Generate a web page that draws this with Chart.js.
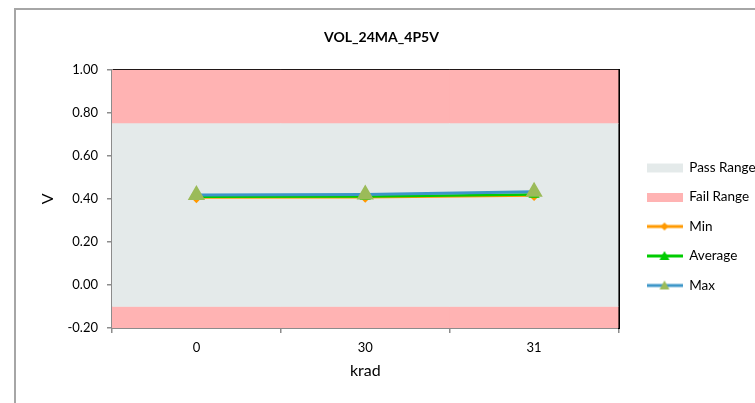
<!DOCTYPE html>
<html>
<head>
<meta charset="utf-8">
<script src="https://cdn.jsdelivr.net/npm/chart.js@4"></script>
<style>
  body { margin: 0; background: #fff; }
  #wrap { position: relative; width: 755px; height: 403px; }
  #frame { position: absolute; left: 14px; top: 8px; right: 0; bottom: 0; border-left: 2px solid #a6a6a6; border-top: 2px solid #a6a6a6; pointer-events: none; }
  canvas { position: absolute; left: 0; top: 0; }
</style>
</head>
<body>
<div id="wrap">
  <canvas id="chart" width="755" height="403"></canvas>
  <div id="frame"></div>
</div>
<script>
// chart values
const categories = ['0', '30', '31'];
const minValues = [0.405, 0.407, 0.415];
const avgValues = [0.410, 0.411, 0.420];
const maxValues = [0.418, 0.420, 0.433];
const passRange = [-0.1, 0.75];
const failLow = [-0.2, -0.1];
const failHigh = [0.75, 1.0];
const yMin = -0.2;
const yMax = 1.0;
const yStep = 0.2;

const PASS_COLOR = '#e4eaea';
const FAIL_COLOR = '#ffb3b3';
const MIN_COLOR = '#ff9900';
const AVG_COLOR = '#00cc00';
const MAX_COLOR = '#3c96c8';
const MARKER_COLOR = '#9bbb59';
const AXIS_GRAY = '#8c8c8c';

Chart.defaults.font.family = 'Lato, "Open Sans", sans-serif';
Chart.defaults.color = '#000';

// small canvases used as legend symbols
function boxSymbol(color) {
    const c = document.createElement('canvas');
    c.width = 36; c.height = 12;
    const ctx = c.getContext('2d');
    ctx.fillStyle = color;
    ctx.fillRect(0, 2, 36, 9);
    return c;
}

function lineSymbol(color, marker, markerColor) {
    const c = document.createElement('canvas');
    c.width = 36; c.height = 12;
    const ctx = c.getContext('2d');
    ctx.strokeStyle = color;
    ctx.lineWidth = 3;
    ctx.beginPath();
    ctx.moveTo(0, 6); ctx.lineTo(36, 6);
    ctx.stroke();
    ctx.fillStyle = markerColor;
    ctx.beginPath();
    if (marker === 'diamond') {
        ctx.moveTo(18, 2); ctx.lineTo(22, 6); ctx.lineTo(18, 10); ctx.lineTo(14, 6);
    } else {
        ctx.moveTo(18, 1); ctx.lineTo(23, 10); ctx.lineTo(13, 10);
    }
    ctx.closePath();
    ctx.fill();
    return c;
}

const legendItems = [
    { text: 'Pass Range', pointStyle: boxSymbol(PASS_COLOR) },
    { text: 'Fail Range', pointStyle: boxSymbol(FAIL_COLOR) },
    { text: 'Min', pointStyle: lineSymbol(MIN_COLOR, 'diamond', MIN_COLOR) },
    { text: 'Average', pointStyle: lineSymbol(AVG_COLOR, 'triangle', AVG_COLOR) },
    { text: 'Max', pointStyle: lineSymbol(MAX_COLOR, 'triangle', MARKER_COLOR) }
];

function rangeBar(label, range, color) {
    return {
        type: 'bar',
        label: label,
        data: categories.map(() => range.slice()),
        backgroundColor: color,
        borderWidth: 0,
        barPercentage: 1,
        categoryPercentage: 1,
        grouped: false,
        order: 10
    };
}

new Chart(document.getElementById('chart'), {
    type: 'bar',
    data: {
        labels: categories,
        datasets: [
            rangeBar('Pass Range', passRange, PASS_COLOR),
            rangeBar('Fail Range', failLow, FAIL_COLOR),
            rangeBar('Fail Range High', failHigh, FAIL_COLOR),
            {
                type: 'line', label: 'Min', data: minValues,
                borderColor: MIN_COLOR, backgroundColor: MIN_COLOR, borderWidth: 2,
                pointStyle: 'rectRot', pointRadius: 4, order: 3
            },
            {
                type: 'line', label: 'Average', data: avgValues,
                borderColor: AVG_COLOR, backgroundColor: AVG_COLOR, borderWidth: 2.5,
                pointStyle: 'triangle', pointRadius: 4, order: 2
            },
            {
                type: 'line', label: 'Max', data: maxValues,
                borderColor: MAX_COLOR, backgroundColor: MARKER_COLOR, pointBorderColor: MARKER_COLOR,
                borderWidth: 3, pointStyle: 'triangle', pointRadius: 7, order: 1
            }
        ]
    },
    options: {
        responsive: false,
        animation: false,
        layout: { padding: { left: 8, right: 0, top: 0, bottom: 18 } },
        plugins: {
            tooltip: { enabled: false },
            title: {
                display: true,
                text: 'VOL_24MA_4P5V',
                font: { size: 14, weight: 'bold' },
                padding: { top: 29, bottom: 24 }
            },
            legend: {
                position: 'right',
                align: 'center',
                // empty title only pushes the entries down
                title: { display: true, text: ' ', font: { size: 10 }, padding: { top: 56, bottom: 0 } },
                labels: {
                    usePointStyle: true,
                    pointStyleWidth: 36,
                    boxHeight: 12,
                    padding: 16,
                    font: { size: 13.5 },
                    generateLabels: () => legendItems.map(it => ({
                        text: it.text,
                        pointStyle: it.pointStyle,
                        fillStyle: 'transparent',
                        strokeStyle: 'transparent',
                        lineWidth: 0,
                        hidden: false
                    }))
                }
            }
        },
        scales: {
            x: {
                offset: true,
                grid: { offset: true, drawOnChartArea: false, color: AXIS_GRAY, tickLength: 5, lineWidth: 1.5 },
                border: { color: AXIS_GRAY, width: 2 },
                ticks: { font: { size: 13 }, padding: 7 },
                title: { display: true, text: 'krad', font: { size: 16 }, padding: { top: 0, bottom: 5 } },
                afterFit: s => { s.height = 57; }
            },
            x2: {
                position: 'top',
                type: 'category',
                offset: true,
                grid: { display: false },
                ticks: { display: false },
                border: { color: '#000', width: 2 },
                afterFit: s => { s.height = 0; }
            },
            y: {
                min: yMin,
                max: yMax,
                grid: { drawOnChartArea: false, color: AXIS_GRAY, tickLength: 5, lineWidth: 1.5 },
                border: { color: AXIS_GRAY, width: 2 },
                ticks: {
                    stepSize: yStep,
                    font: { size: 13 },
                    padding: 9,
                    callback: v => (Math.abs(v) < 1e-9 ? 0 : v).toFixed(2)
                },
                title: { display: true, text: 'V', font: { size: 16 }, padding: { top: 30 } },
                afterFit: s => { s.width = 104; }
            },
            y2: {
                position: 'right',
                type: 'linear',
                min: yMin,
                max: yMax,
                grid: { display: false },
                ticks: { display: false },
                border: { color: '#000', width: 2 },
                afterFit: s => { s.width = 12; }
            }
        }
    }
});
</script>
</body>
</html>
